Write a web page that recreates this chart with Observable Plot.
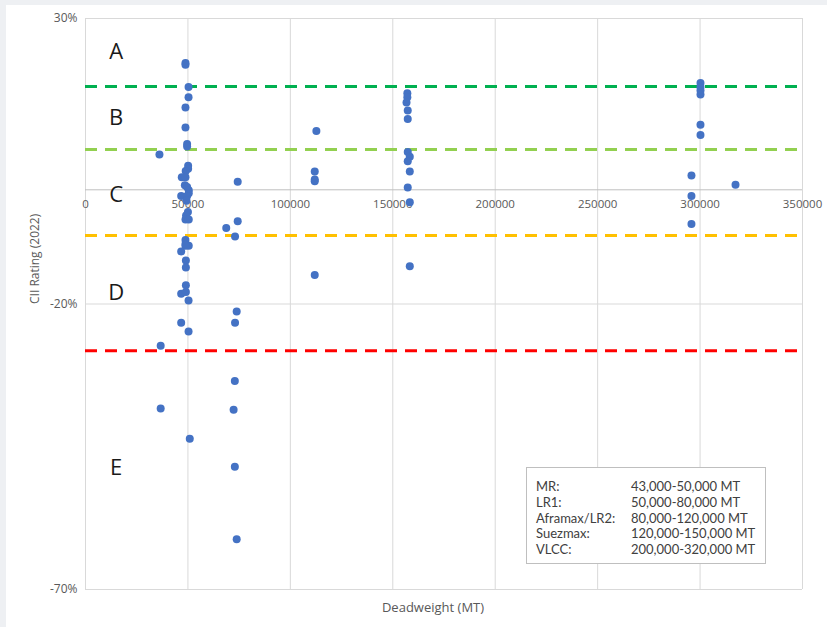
<!DOCTYPE html>
<html>
<head>
<meta charset="utf-8">
<script src="https://cdn.jsdelivr.net/npm/d3@7"></script>
<script src="https://cdn.jsdelivr.net/npm/@observablehq/plot@0.6"></script>
<style>
  html, body { margin: 0; padding: 0; background: #eef0f3; }
  #wrap { position: relative; width: 827px; height: 627px; overflow: hidden; }
  #panel { position: absolute; left: 6px; top: 5px; right: 0; bottom: 0; background: #fff; }
  #chart { position: absolute; left: 0; top: 0; }
  #legend {
    position: absolute; left: 526px; top: 467px; width: 240px; height: 97px;
    box-sizing: border-box; border: 1px solid #bfbfbf; background: #fff;
    font-family: Lato, "Open Sans", sans-serif; font-size: 13px; color: #404040;
    padding: 11px 0 0 9px; line-height: 15.8px;
  }
  #legend .row { display: flex; white-space: nowrap; height: 15.8px; }
  #legend .k { width: 95px; }
</style>
</head>
<body>
<div id="wrap">
  <div id="panel"></div>
  <div id="chart"></div>
  <div id="legend"></div>
</div>
<script>
// Deadweight (MT) and CII rating (%) per vessel
const shipDwt = [
  // MR
  48800, 48800, 50300, 50300, 48800, 48800, 49600, 49600, 36100, 50100,
  50100, 48900, 47000, 48800, 48500, 49600, 50400, 50400, 46700, 49600,
  49300, 50000, 49100, 48800, 50400, 48800, 48800, 50400, 48800, 46700,
  49000, 49000, 49000, 46700, 49000, 50300, 46700, 50300, 36700, 36700,
  50900,
  // LR1
  74300, 74300, 68700, 73000, 73800, 73000, 72900, 72300, 72900, 73800,
  // Aframax/LR2
  112700, 111900, 111900, 111900, 111900,
  // Suezmax
  157100, 157100, 156700, 157300, 157300, 157300, 158300, 157300, 158300, 157300,
  158300, 158300,
  // VLCC
  300200, 300200, 300200, 300200, 300200, 300200, 295800, 317300, 295800, 295800
];
const shipCii = [
  // MR
  22.2, 21.9, 18.0, 16.2, 14.4, 10.9, 8.0, 7.6, 6.2, 4.2,
  3.7, 3.3, 2.2, 2.2, 0.8, 0.5, -0.1, -0.6, -1.1, -1.1,
  -1.9, -3.9, -4.5, -5.2, -5.2, -8.8, -9.5, -9.8, -9.8, -10.8,
  -12.4, -13.6, -16.7, -18.2, -17.9, -19.4, -23.3, -24.8, -27.3, -38.3,
  -43.6,
  // LR1
  1.4, -5.5, -6.7, -8.2, -21.3, -23.3, -33.5, -38.5, -48.5, -61.2,
  // Aframax/LR2
  10.3, 3.2, 1.8, 1.5, -14.9,
  // Suezmax
  16.9, 16.2, 15.3, 13.9, 12.4, 6.6, 5.8, 5.0, 3.2, 0.4,
  -2.2, -13.4,
  // VLCC
  18.7, 18.0, 17.4, 16.7, 11.4, 9.6, 2.5, 0.9, -1.1, -6.0
];

// Rating boundaries (%) and their line colours
const boundaryValues = [18.1, 7.05, -8.0, -28.2];
const boundaryColors = ["#00b050", "#92d050", "#ffc000", "#ff0000"];

// Rating band labels
const grades = ["A", "B", "C", "D", "E"];
const gradeY = [24.2, 12.5, -0.9, -18.0, -48.8];
const gradeX = 15000;

// Axis ticks
const xTicks = [0, 50000, 100000, 150000, 200000, 250000, 300000, 350000];
const yTicks = [30, -20, -70];

// Legend
const legendClasses = ["MR:", "LR1:", "Aframax/LR2:", "Suezmax:", "VLCC:"];
const legendRanges = ["43,000-50,000 MT", "50,000-80,000 MT", "80,000-120,000 MT", "120,000-150,000 MT", "200,000-320,000 MT"];

const points = shipDwt.map((d, i) => ({dwt: d, cii: shipCii[i]}));
const boundaries = boundaryValues.map((v, i) => ({v, c: boundaryColors[i]}));
const gradeRows = grades.map((g, i) => ({g, y: gradeY[i]}));

const font = "'Open Sans', 'Noto Sans', sans-serif";

const chart = Plot.plot({
  width: 827,
  height: 627,
  marginLeft: 85,
  marginRight: 25,
  marginTop: 18,
  marginBottom: 38,
  style: {background: "transparent", fontFamily: font, overflow: "visible"},
  x: {domain: [0, 350000], axis: null},
  y: {domain: [-70, 30], axis: null},
  marks: [
    Plot.gridX(xTicks, {stroke: "#d9d9d9", strokeOpacity: 1}),
    Plot.gridY(yTicks, {stroke: "#d9d9d9", strokeOpacity: 1}),
    Plot.axisY(yTicks, {tickSize: 0, tickPadding: 8, tickFormat: d => d + "%", label: null, fill: "#595959", fontSize: 12}),
    Plot.ruleY([0], {stroke: "#bfbfbf"}),
    Plot.text(xTicks, {x: d => d, y: 0, dy: 15, text: d => String(d), fill: "#595959", fontSize: 11.5}),
    Plot.ruleY(boundaries, {y: "v", stroke: {value: d => d.c, scale: null}, strokeWidth: 3, strokeDasharray: "12,8"}),
    Plot.dot(points, {x: "dwt", y: "cii", r: 4, fill: "#4472c4", stroke: "none"}),
    Plot.text(gradeRows, {x: () => gradeX, y: "y", text: "g", fontSize: 22, fill: "#1a1a1a"}),
    Plot.text(["CII Rating (2022)"], {frameAnchor: "left", dx: -50, rotate: -90, fill: "#595959", fontSize: 12}),
    Plot.text(["Deadweight (MT)"], {frameAnchor: "bottom", dx: -11, dy: 22, fill: "#595959", fontSize: 13})
  ]
});
document.getElementById("chart").appendChild(chart);

const legend = document.getElementById("legend");
legendClasses.forEach((c, i) => {
  const row = document.createElement("div");
  row.className = "row";
  const k = document.createElement("span"); k.className = "k"; k.textContent = c;
  const v = document.createElement("span"); v.textContent = legendRanges[i];
  row.appendChild(k); row.appendChild(v);
  legend.appendChild(row);
});
</script>
</body>
</html>
